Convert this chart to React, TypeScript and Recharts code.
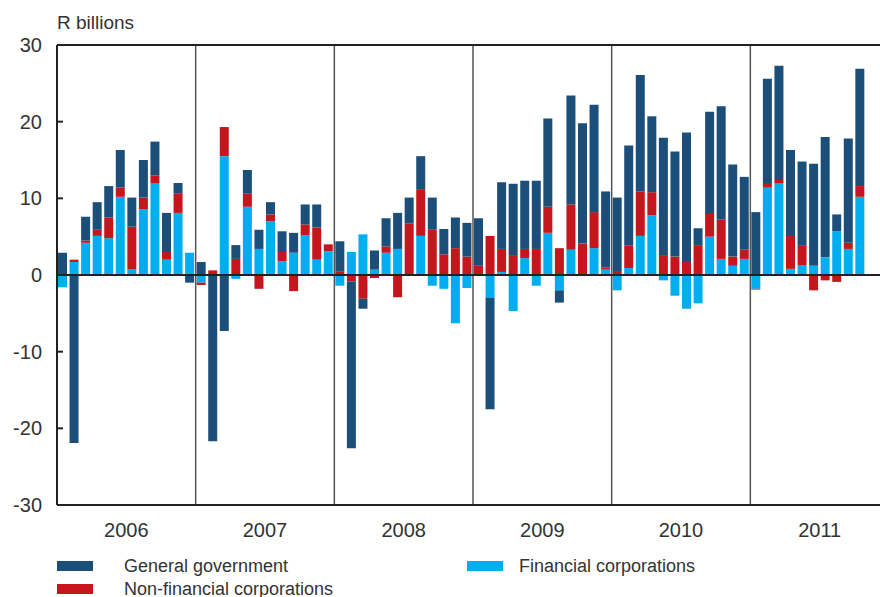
import React from 'react';
import { BarChart, Bar, XAxis, YAxis, ReferenceLine } from 'recharts';

const years = ['2006', '2007', '2008', '2009', '2010', '2011'];

// Monthly values, Jan 2006 – Oct 2011 (R billions)
const generalGovernment = [
  2.9, -21.9, 3.1, 3.6, 4.1, 4.9, 3.8, 4.9, 4.4, 5.1, 1.4, -1.0,
  1.7, -21.7, -7.3, 1.8, 3.1, 2.5, 1.6, 2.7, 2.6, 2.6, 3.0, 0,
  3.9, -21.8, -1.3, 2.5, 3.7, 4.7, 3.4, 4.3, 4.2, 3.3, 4.0, 4.4,
  6.2, -14.5, 8.7, 9.3, 8.9, 8.9, 11.5, -1.6, 14.2, 15.7, 14.0, 9.9,
  9.7, 13.1, 15.2, 9.9, 15.3, 13.7, 16.9, 2.2, 13.2, 14.8, 12.0, 9.5,
  8.2, 13.6, 14.9, 11.2, 11.0, 13.3, 15.7, 2.2, 13.6, 15.3,
];
const nonFinancialCorporations = [
  0, 0.3, 0.3, 0.8, 2.7, 1.2, 5.6, 1.5, 1.0, 1.0, 2.5, 0,
  -0.3, 0.6, 3.8, 2.1, 1.7, -1.8, 0.9, 1.2, -2.1, 1.4, 4.2, 0.9,
  0.5, -0.8, -3.1, -0.4, 0.8, -2.9, 6.7, 6.1, 5.9, 2.7, 3.5, 2.4,
  1.2, 5.1, 3.0, 2.6, 1.2, 3.4, 3.4, 3.5, 5.9, 4.1, 4.7, 0.3,
  0.4, 2.9, 5.8, 3.0, 2.6, 2.4, 1.7, 3.9, 3.1, 5.1, 1.2, 1.2,
  -0.1, 0.6, 0.4, 4.3, 2.5, -2.0, -0.7, -0.9, 0.8, 1.4,
];
const financialCorporations = [
  -1.6, 1.7, 4.2, 5.1, 4.8, 10.2, 0.7, 8.6, 12.0, 2.0, 8.1, 2.9,
  -1.0, 0, 15.5, -0.5, 8.9, 3.4, 7.0, 1.8, 2.9, 5.2, 2.0, 3.1,
  -1.4, 3.0, 5.3, 0.7, 2.9, 3.4, 0, 5.1, -1.4, -1.8, -6.3, -1.7,
  0, -3.0, 0.4, -4.7, 2.2, -1.4, 5.5, -2.0, 3.3, 0, 3.5, 0.7,
  -2.0, 0.9, 5.1, 7.8, -0.7, -2.7, -4.4, -3.7, 5.0, 2.1, 1.2, 2.1,
  -1.8, 11.4, 12.0, 0.8, 1.3, 1.2, 2.3, 5.7, 3.4, 10.2,
];

const yTicks = [-30, -20, -10, 0, 10, 20, 30];
const yearBoundaries = [12, 24, 36, 48, 60];
const yearLabelTicks = [6, 18, 30, 42, 54, 66];

const data = generalGovernment.map((g, i) => ({
  x: i + 0.5,
  gg: g,
  nfc: nonFinancialCorporations[i],
  fc: financialCorporations[i],
}));

const C_GG = '#1b4f7a';
const C_NFC = '#c4161c';
const C_FC = '#00aeef';
const FONT = "'Liberation Sans', Arial, sans-serif";
const TEXT = '#333333';

const YTick = (props: any) => {
  const { x, y, payload } = props;
  const v = payload.value;
  const inner = v !== 30 && v !== -30 && v !== 0;
  return (
    <g>
      <text x={x} y={y} dy={7} textAnchor="end" fill={TEXT} fontSize={20} fontFamily={FONT}>
        {v}
      </text>
      {inner && <line x1={x + 14} x2={x + 21} y1={y} y2={y} stroke="#222" strokeWidth={2} />}
    </g>
  );
};

export default function App() {
  return (
    <div style={{ position: 'absolute', left: 0, top: 0, width: 880, height: 597, overflow: 'hidden', background: '#fff' }}>
      <div style={{ position: 'absolute', left: 57, top: 12, fontFamily: FONT, fontSize: 19, color: TEXT }}>
        R billions
      </div>
      <div style={{ position: 'absolute', left: 0, top: 0 }}>
        <BarChart
          width={900}
          height={597}
          data={data}
          stackOffset="sign"
          barSize={9}
          margin={{ top: 45, right: 11, bottom: 52, left: 0 }}
        >
          <XAxis
            type="number"
            dataKey="x"
            domain={[0, 72]}
            ticks={yearLabelTicks}
            tickFormatter={(v: number) => years[Math.round((v - 6) / 12)]}
            tickLine={false}
            tickSize={0}
            tickMargin={18}
            axisLine={{ stroke: '#222', strokeWidth: 2 }}
            tick={{ fill: TEXT, fontSize: 20, fontFamily: FONT }}
            height={40}
            allowDataOverflow
          />
          <YAxis
            type="number"
            domain={[-30, 30]}
            ticks={yTicks}
            width={57}
            tickSize={7}
            tickMargin={8}
            tickLine={false}
            axisLine={{ stroke: '#222', strokeWidth: 2 }}
            tick={<YTick />}
            interval={0}
          />
          {yearBoundaries.map((b) => (
            <ReferenceLine key={b} x={b} stroke="#555" strokeWidth={1.5} />
          ))}
          <Bar dataKey="fc" stackId="a" fill={C_FC} isAnimationActive={false} />
          <Bar dataKey="nfc" stackId="a" fill={C_NFC} isAnimationActive={false} />
          <Bar dataKey="gg" stackId="a" fill={C_GG} isAnimationActive={false} />
          <ReferenceLine y={0} stroke="#222" strokeWidth={2} />
          <ReferenceLine y={30} stroke="#222" strokeWidth={2} />
        </BarChart>
      </div>
      <div style={{ position: 'absolute', left: 57, top: 561, width: 36, height: 10, background: C_GG }} />
      <div style={{ position: 'absolute', left: 124, top: 556, fontFamily: FONT, fontSize: 18, color: TEXT }}>
        General government
      </div>
      <div style={{ position: 'absolute', left: 57, top: 584, width: 36, height: 10, background: C_NFC }} />
      <div style={{ position: 'absolute', left: 124, top: 579, fontFamily: FONT, fontSize: 18, color: TEXT }}>
        Non-financial corporations
      </div>
      <div style={{ position: 'absolute', left: 467, top: 561, width: 36, height: 10, background: C_FC }} />
      <div style={{ position: 'absolute', left: 519, top: 556, fontFamily: FONT, fontSize: 18, color: TEXT }}>
        Financial corporations
      </div>
    </div>
  );
}
